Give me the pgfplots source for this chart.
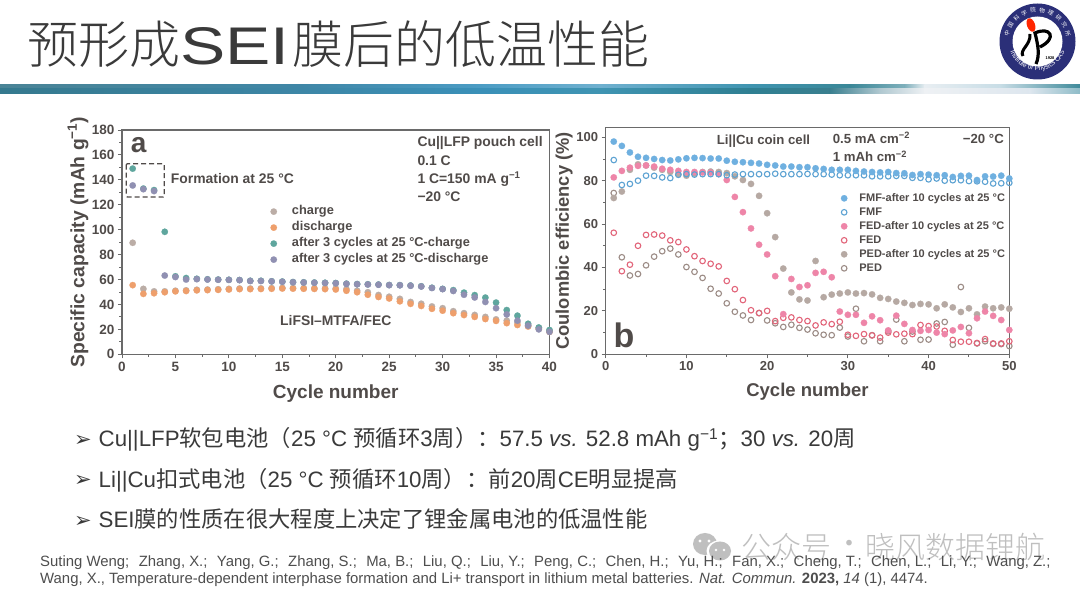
\documentclass[border=0pt]{standalone}
\usepackage{fontspec}
\usepackage{pgfplots}
\pgfplotsset{compat=1.18}
\usetikzlibrary{decorations.text,calc}
\setmainfont{Liberation Sans}
\newfontfamily\cjk{Noto Sans CJK SC}
\newfontfamily\cjkl[UprightFont=* Light]{Noto Sans CJK SC}
\newfontfamily\djv{DejaVu Sans}
\newcommand{\fs}[1]{\fontsize{#1}{#1}\selectfont}
\newcommand{\zh}[1]{{\cjk #1}}
\newcommand{\refsep}{\hspace{9.4pt}}

\definecolor{txt}{HTML}{504B49}
\definecolor{body}{HTML}{3A3A3A}
\definecolor{frame}{HTML}{6A6A6A}
\definecolor{cCharge}{HTML}{BBADA6}
\definecolor{cDis}{HTML}{EE9F6C}
\definecolor{cAC}{HTML}{5FA69E}
\definecolor{cAD}{HTML}{9090B2}
\definecolor{cFMF}{HTML}{6FB0E0}
\definecolor{cFMFo}{HTML}{5CA2D2}
\definecolor{cFED}{HTML}{EE85A8}
\definecolor{cFEDo}{HTML}{E2657A}
\definecolor{cPED}{HTML}{B6A9A3}
\definecolor{cPEDo}{HTML}{9C8C86}
\definecolor{navy}{HTML}{2B2F78}
% banner stops
\definecolor{t0}{HTML}{4A8496}\definecolor{t1}{HTML}{3F86A6}\definecolor{t2}{HTML}{4B9CC4}
\definecolor{t3}{HTML}{6FB0CF}\definecolor{t4}{HTML}{3F94B0}\definecolor{t5}{HTML}{3A8797}
\definecolor{t6}{HTML}{7FB0BC}\definecolor{t7}{HTML}{E8EEF2}\definecolor{t8}{HTML}{C8DDE6}\definecolor{t9}{HTML}{3F8A9A}
\definecolor{u0}{HTML}{35798E}\definecolor{u1}{HTML}{3D86A6}\definecolor{u2}{HTML}{3A90B8}
\definecolor{u3}{HTML}{3F94B2}\definecolor{u4}{HTML}{2F7F92}\definecolor{u5}{HTML}{3A7F8F}
\definecolor{u6}{HTML}{B0C8D0}\definecolor{u7}{HTML}{EEF1F4}\definecolor{u8}{HTML}{DDE6EE}\definecolor{u9}{HTML}{8FBCC8}

\pgfplotsset{
  panel/.style={
    scale only axis, axis line style={frame, line width=1.1pt},
    tick align=outside, tick pos=left,
    major tick length=4pt, minor tick length=2.5pt,
    every tick/.append style={frame, line width=0.9pt},
    tick label style={font=\fs{13.5}\bfseries, text=txt},
    label style={font=\fs{19}\bfseries, text=txt},
    /pgf/number format/assume math mode=true,
    scaled ticks=false, clip=true, clip mode=individual,
  },
  dot/.style={only marks, mark=*, mark size=3.2pt, mark options={draw=#1, fill=#1, line width=0.2pt, solid}},
  ring/.style={only marks, mark=o, mark size=2.8pt, mark options={draw=#1, line width=1.1pt}},
}

\begin{document}
\begin{tikzpicture}[x=1pt,y=1pt]
\path[use as bounding box, fill=white] (0,0) rectangle (1080,592);

% banner under the title
\foreach \a/\b/\p/\q in {0/300/0/1,300/480/1/2,480/600/2/3,600/750/3/4,750/850/4/5,850/905/5/6,905/925/6/7,925/1000/7/8,1000/1080/8/9}{
  \shade[left color=t\p,right color=t\q] (\a-0.3,592-84.7) rectangle (\b,592-89);
}
\foreach \a/\b/\p/\q in {0/300/0/1,300/480/1/2,480/600/2/3,600/750/3/4,750/830/4/5,830/880/5/6,880/925/6/7,925/1030/7/8,1030/1080/8/9}{
  \shade[left color=u\p,right color=u\q] (\a-0.3,592-89) rectangle (\b,592-93.3);
}

% title
\node[anchor=base west,inner sep=0,text=body] at (27,592-64) {\fs{51}\cjkl 预形成};
\node[anchor=base west,inner sep=0,text=body,xscale=1.28] at (180,592-65) {\fs{53}SEI};
\node[anchor=base west,inner sep=0,text=body] at (292,592-64) {\fs{51}\cjkl 膜后的低温性能};

% logo
\fill[navy] (1037.5,592-41.5) circle (38);
\fill[white] (1037.5,592-41.5) circle (25);
\fill[red!70!orange] (1031,592-25) ellipse [x radius=4, y radius=7, rotate=20];
\draw[black,line width=3] (1030,592-34) .. controls (1031,592-45) and (1019,592-50) .. (1023,592-56);
\draw[black,line width=3.2] (1036,592-64) .. controls (1040,592-55) and (1038,592-45) .. (1035,592-33)
   .. controls (1050,592-26) and (1058,592-38) .. (1040,592-47);
\node[font=\fs{4}\bfseries] at (1050,592-58) {1928};
\foreach \ch [count=\i from 0] in {中,国,科,学,院,物,理,研,究,所}{
  \pgfmathsetmacro{\ang}{165-\i*16.7}
  \node[text=white,inner sep=0,rotate=\ang-90,font=\fs{5.6}\cjk] at ($(1037.5,592-41.5)+(\ang:31.5)$) {\ch};
}
\path[decorate,decoration={text along path,text align=center,
  text={|\fs{6.6}\color{white}|Institute of Physics CAS}}]
  (1037.5,592-41.5) ++(182:29) arc[start angle=182,end angle=358,radius=29];

% panel a
\begin{axis}[panel, name=A, at={(122pt,237.7pt)}, anchor=south west, width=427.5pt, height=224.3pt,
  xmin=0, xmax=40, ymin=0, ymax=180,
  xtick={0,5,...,40}, ytick={0,20,...,180},
  minor x tick num=1, minor y tick num=1,
  xlabel={Cycle number}, ylabel={Specific capacity (mAh g\textsuperscript{−1})},
  xlabel style={at={(axis description cs:0.5,-0.177)},anchor=center},
  ylabel style={at={(axis description cs:-0.103,0.5)},anchor=center,font=\fs{19.3}\bfseries},
  legend cell align=left,
  legend style={draw=none, fill=none, at={(axis description cs:0.34,0.676)}, anchor=north west,
    font=\fs{12.8}\bfseries, text=txt, row sep=2.5pt,
    /tikz/every odd column/.append style={column sep=14pt},
    nodes={inner sep=1pt, text height=9pt, text depth=2.5pt}},
]
\addplot[dot=cCharge] coordinates {
(1,89.5)(2,52.5)(3,50.5)(4,50.5)(5,51)(6,51.3)(7,51.8)(8,52)(9,52.2)(10,52.5)
(11,52.8)(12,52.8)(13,52.9)(14,53.1)(15,53.3)(16,53.2)(17,53.1)(18,53)(19,52.9)(20,52.8)
(21,52.3)(22,51)(23,49.8)(24,47.6)(25,46.2)(26,44.5)(27,42)(28,40.6)(29,38.4)(30,37)
(31,34.6)(32,33)(33,31.6)(34,30)(35,28)(36,27)(37,25.6)(38,23.5)(39,21.2)(40,19)};
\addlegendentry{charge}
\addplot[dot=cDis] coordinates {
(1,55.5)(2,48.5)(3,49)(4,49.8)(5,50.5)(6,50.8)(7,51.3)(8,51.5)(9,51.7)(10,52)
(11,52.3)(12,52.3)(13,52.4)(14,52.6)(15,52.8)(16,52.7)(17,52.6)(18,52.5)(19,52.3)(20,52)
(21,51)(22,49.8)(23,47.8)(24,46)(25,44.8)(26,42.5)(27,40.5)(28,38.8)(29,36.5)(30,35)
(31,33)(32,31.5)(33,30)(34,28.3)(35,26.8)(36,25)(37,23.5)(38,22.3)(39,20.5)(40,18)};
\addlegendentry{discharge}
\addplot[dot=cAC] coordinates {
(1,149)(2,133)(3,131.8)(4,98.3)(5,62.6)(6,61.2)(7,60.6)(8,60.2)(9,60)(10,59.8)
(11,59.6)(12,59)(13,59)(14,58.6)(15,58.4)(16,58)(17,57.8)(18,57.6)(19,57.4)(20,57.2)
(21,56.7)(22,56.4)(23,56.2)(24,56)(25,55.6)(26,55.5)(27,55.2)(28,54.6)(29,53.4)(30,52.5)
(31,51.5)(32,49.5)(33,47.5)(34,45.5)(35,41.5)(36,35.5)(37,31)(38,24.5)(39,21.5)(40,19.5)};
\addlegendentry{after 3 cycles at 25 °C-charge}
\addplot[dot=cAD] coordinates {
(1,135.5)(2,132.5)(3,131)(4,63.2)(5,62)(6,60)(7,60.3)(8,60)(9,59.8)(10,59.7)
(11,59.5)(12,58.8)(13,58.8)(14,58.5)(15,58.2)(16,57.8)(17,57.6)(18,57.4)(19,57.2)(20,57)
(21,56.5)(22,56.2)(23,56)(24,55.8)(25,55.5)(26,55.4)(27,55)(28,54.4)(29,53.2)(30,52.3)
(31,50.8)(32,47.8)(33,45.6)(34,42)(35,37)(36,32)(37,27)(38,23)(39,20)(40,18)};
\addlegendentry{after 3 cycles at 25 °C-discharge}
\end{axis}

% panel b
\begin{axis}[panel, name=B, at={(605.7pt,237.7pt)}, anchor=south west, width=403.6pt, height=226.6pt,
  xmin=0, xmax=50, ymin=0, ymax=104.4,
  xtick={0,10,...,50}, ytick={0,20,...,100},
  minor x tick num=1, minor y tick num=1,
  tick label style={font=\fs{13}\bfseries, text=txt},
  xlabel={Cycle number}, ylabel={Coulombic efficiency (\%)},
  xlabel style={at={(axis description cs:0.5,-0.166)},anchor=center,font=\fs{18.5}\bfseries},
  ylabel style={at={(axis description cs:-0.103,0.5)},anchor=center,font=\fs{18.3}\bfseries},
  legend cell align=left, reverse legend,
  legend style={draw=none, fill=none, at={(axis description cs:0.575,0.725)}, anchor=north west,
    font=\fs{11}\bfseries, text=txt, row sep=1.8pt,
    /tikz/every odd column/.append style={column sep=11pt},
    nodes={inner sep=1pt, text height=8pt, text depth=2.2pt}},
]
\addplot[ring=cPEDo] coordinates {
(1,74.3)(2,44.7)(3,36.3)(4,37)(5,41)(6,45)(7,47.5)(8,48.7)(9,46)(10,40.2)
(11,38)(12,35.2)(13,30.2)(14,28)(15,23.5)(16,19.6)(17,17.9)(18,15.8)(19,19)(20,15.6)
(21,14.3)(22,12.6)(23,13.6)(24,12.2)(25,11.4)(26,9.7)(27,9)(28,8.8)(29,12.3)(30,8.2)
(31,21)(32,6)(33,8.8)(34,6)(35,10.7)(36,16)(37,6)(38,10.5)(39,6.7)(40,6.8)
(41,14.2)(42,14.9)(43,4.4)(44,31)(45,12.2)(46,5)(47,6)(48,4.8)(49,4.7)(50,3.8)};
\addlegendentry{PED}
\addplot[dot=cPED] coordinates {
(1,72)(2,75)(3,85)(4,87.5)(5,87)(6,86)(7,85)(8,84)(9,83)(10,82.3)
(11,83.3)(12,84)(13,84.2)(14,84)(15,83.5)(16,82)(17,80.3)(18,78.5)(19,73)(20,65)
(21,54)(22,39.5)(23,28.5)(24,25.3)(25,24.8)(26,43)(27,26.3)(28,27.5)(29,28)(30,28.5)
(31,28)(32,28.2)(33,27.6)(34,26)(35,25.5)(36,24.3)(37,23.7)(38,22.7)(39,23.2)(40,23)
(41,21.2)(42,23)(43,21.6)(44,19.5)(45,21.2)(46,18.4)(47,22)(48,21.2)(49,21.6)(50,21)};
\addlegendentry{PED-after 10 cycles at 25 °C}
\addplot[ring=cFEDo] coordinates {
(1,56)(2,38.3)(3,41.3)(4,50)(5,55)(6,55.2)(7,54.7)(8,52.5)(9,51.7)(10,48.3)
(11,45.2)(12,43)(13,41.7)(14,40.5)(15,33.8)(16,30)(17,25)(18,20.3)(19,19)(20,20)
(21,15.3)(22,16.8)(23,17)(24,15.8)(25,15.3)(26,13.3)(27,14.7)(28,13.9)(29,15)(30,9)
(31,8.5)(32,9.3)(33,8.7)(34,7.7)(35,10)(36,9.2)(37,9.5)(38,9.3)(39,13.5)(40,13)
(41,12.8)(42,10.8)(43,6.6)(44,5.8)(45,5.8)(46,5.2)(47,7)(48,5)(49,5)(50,6)};
\addlegendentry{FED}
\addplot[dot=cFED] coordinates {
(1,81.5)(2,84.5)(3,86)(4,86.8)(5,87)(6,86.5)(7,85.5)(8,85)(9,84.5)(10,84)
(11,84)(12,83.8)(13,83.7)(14,83)(15,80.3)(16,72.5)(17,65.5)(18,58)(19,50.5)(20,46)
(21,36)(22,18.5)(23,34.7)(24,31)(25,31.8)(26,37.5)(27,38)(28,35.5)(29,19.7)(30,18.2)
(31,18.2)(32,14.5)(33,17.5)(34,15.7)(35,11)(36,17.8)(37,14)(38,11.2)(39,10.8)(40,11.2)
(41,10)(42,9.3)(43,11)(44,12.6)(45,9.7)(46,16.6)(47,19.7)(48,17.7)(49,15.8)(50,11.2)};
\addlegendentry{FED-after 10 cycles at 25 °C}
\addplot[ring=cFMFo] coordinates {
(1,89.5)(2,78)(3,78.5)(4,80)(5,82.3)(6,82.2)(7,81.5)(8,81.2)(9,82.7)(10,83)
(11,82.8)(12,83)(13,83)(14,83)(15,82.5)(16,82.8)(17,83)(18,83)(19,83)(20,83)
(21,83.2)(22,83)(23,83)(24,83)(25,83.1)(26,83)(27,83)(28,82.8)(29,82.5)(30,82.5)
(31,82.5)(32,82.5)(33,82)(34,82)(35,82)(36,82.2)(37,82.2)(38,81.3)(39,81.3)(40,80.6)
(41,81)(42,80)(43,80.2)(44,80.2)(45,79.8)(46,79.7)(47,79.5)(48,78.7)(49,78.8)(50,79)};
\addlegendentry{FMF}
\addplot[dot=cFMF] coordinates {
(1,98)(2,96)(3,93)(4,91)(5,90.5)(6,90)(7,89.5)(8,89.3)(9,89.8)(10,90.3)
(11,90.5)(12,90.4)(13,90.2)(14,90.2)(15,89.2)(16,88.7)(17,88.5)(18,88.2)(19,87.9)(20,87.3)
(21,87)(22,86.5)(23,86.5)(24,86.2)(25,86.2)(26,85.7)(27,85.4)(28,85)(29,85)(30,85)
(31,84.5)(32,84.2)(33,84)(34,83.8)(35,84)(36,83.5)(37,83.4)(38,82.6)(39,83)(40,82.8)
(41,82.5)(42,82.5)(43,81.7)(44,82.2)(45,82.3)(46,80.3)(47,82)(48,81.9)(49,82.3)(50,81)};
\addlegendentry{FMF-after 10 cycles at 25 °C}
\end{axis}

% panel a annotations
\node[anchor=center,inner sep=0,text=txt,font=\fs{28}\bfseries] at (138.7,592-145) {a};
\draw[txt,line width=1.2,dash pattern=on 5pt off 3pt,rounded corners=1pt] (126.3,592-163.7) rectangle (164.3,592-197);
\begin{scope}[every node/.style={anchor=west,inner sep=0,text=txt,font=\fs{13.9}\bfseries}]
\node at (170.7,592-179) {Formation at 25 °C};
\node at (417.3,592-142.7) {Cu||LFP pouch cell};
\node at (417.3,592-160.3) {0.1 C};
\node at (417.3,592-179) {1 C=150 mA g\textsuperscript{−1}};
\node at (417.3,592-196.5) {−20 °C};
\node at (280,592-320.7) {LiFSI–MTFA/FEC};
\end{scope}

% panel b annotations
\node[anchor=center,inner sep=0,text=txt,font=\fs{34}\bfseries] at (624,592-335) {b};
\begin{scope}[every node/.style={anchor=west,inner sep=0,text=txt,font=\fs{13.2}\bfseries}]
\node at (716.7,592-141) {Li||Cu coin cell};
\node at (832.7,592-137.7) {0.5 mA cm\textsuperscript{−2}};
\node at (832.7,592-156.3) {1 mAh cm\textsuperscript{−2}};
\node[anchor=east] at (1004,592-139) {−20 °C};
\end{scope}

% watermark
\fill[gray!50] (705,592-544) ellipse [x radius=12, y radius=11];
\fill[white] (719,592-551) ellipse [x radius=12.5, y radius=10.5];
\fill[gray!50] (720,592-551) ellipse [x radius=11, y radius=9.5];
\fill[white] (700,592-541) circle (1.6) (709,592-541) circle (1.6) (716,592-550) circle (1.3) (724,592-550) circle (1.3);
\begin{scope}[every node/.style={anchor=west,inner sep=0,text=gray!50,font=\fs{30}\cjkl}]
\node at (741,592-547) {公众号};
\node at (834,592-547) {·};
\node at (865,592-547) {晓风数据锂航};
\end{scope}

% bullets
\begin{scope}[every node/.style={anchor=base west,inner sep=0,text=body,font=\fs{22.3}}]
\node[font=\fs{21}\djv] at (74,592-447) {➢};
\node[font=\fs{21}\djv] at (74,592-487) {➢};
\node[font=\fs{21}\djv] at (74,592-528) {➢};
\node at (98.5,592-447) {Cu||LFP\zh{软包电池（}25 °C \zh{预循环}3\zh{周）：}57.5 \textit{vs.} 52.8 mAh g\textsuperscript{−1}\zh{；}30 \textit{vs.} 20\zh{周}};
\node at (98.5,592-487.5) {Li||Cu\zh{扣式电池（}25 °C \zh{预循环}10\zh{周）：前}20\zh{周}CE\zh{明显提高}};
\node at (98.5,592-528) {SEI\zh{膜的性质在很大程度上决定了锂金属电池的低温性能}};
\end{scope}

% reference
\begin{scope}[every node/.style={anchor=base west,inner sep=0,text=body!90,font=\fs{14.9}}]
\node at (40,592-566.5) {Suting Weng;\refsep Zhang, X.;\refsep Yang, G.;\refsep Zhang, S.;\refsep Ma, B.;\refsep Liu, Q.;\refsep Liu, Y.;\refsep Peng, C.;\refsep Chen, H.;\refsep Yu, H.;\refsep Fan, X.;\refsep Cheng, T.;\refsep Chen, L.;\refsep Li, Y.;\refsep Wang, Z.;};
\node at (40,592-584) {Wang, X., Temperature-dependent interphase formation and Li+ transport in lithium metal batteries. \textit{Nat. Commun.} \textbf{2023,} \textit{14} (1), 4474.};
\end{scope}
\end{tikzpicture}
\end{document}
